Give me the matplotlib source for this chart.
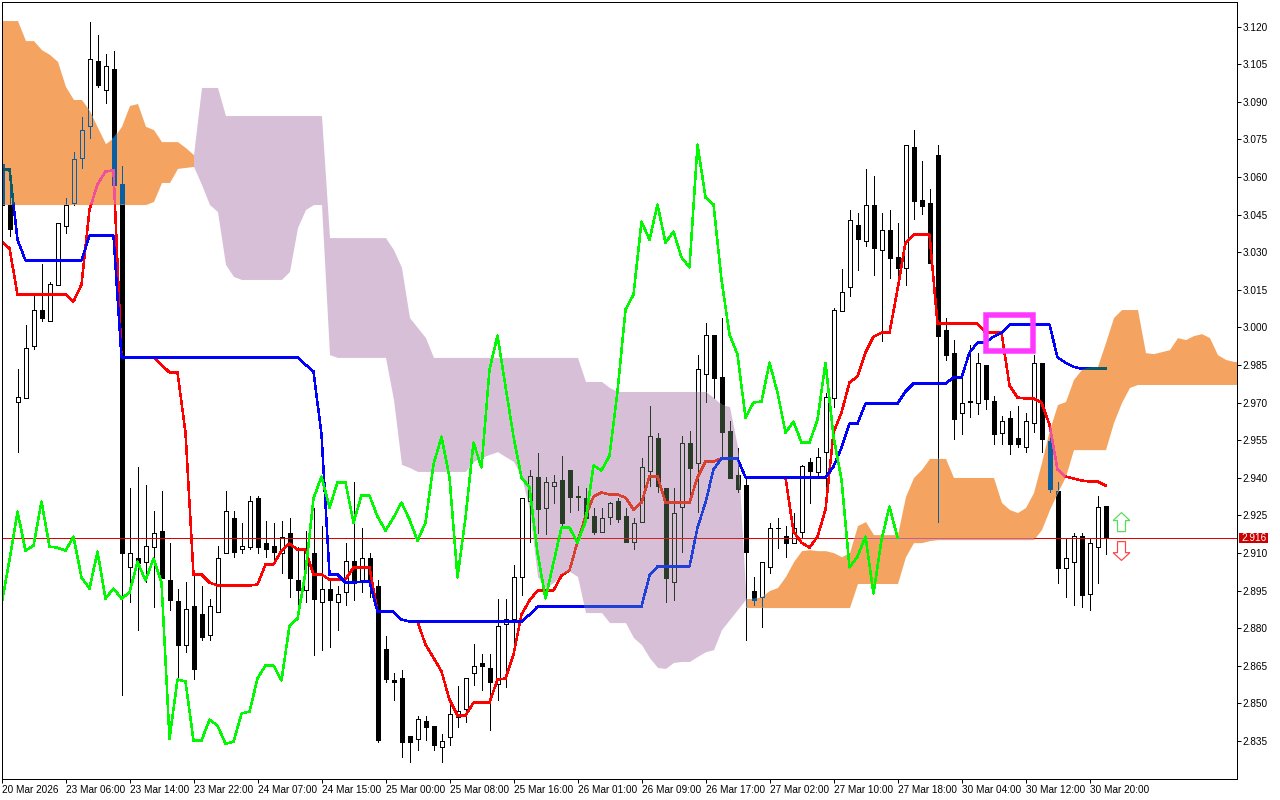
import matplotlib
matplotlib.use('Agg')
import matplotlib.pyplot as plt
from matplotlib.patches import Polygon, Rectangle

plt.rcParams['font.family'] = ['Liberation Sans', 'DejaVu Sans']

bar_open = [
    3.0650, 3.0490, 2.9704, 2.9720, 2.9927, 3.0071, 3.0027, 3.0167, 3.0406, 3.0498,
    3.0677, 3.0802, 3.1061, 3.0945, 3.1029, 3.0570, 2.9042, 2.9081, 2.9065, 2.9125,
    2.9189, 2.8990, 2.8910, 2.8734, 2.8890, 2.8858, 2.8774, 2.8866, 2.9101, 2.9241,
    2.9117, 2.9125, 2.9321, 2.9141, 2.9129, 2.9101, 2.9181, 2.8990, 2.8954, 2.9101,
    2.8906, 2.8958, 2.8906, 2.8946, 2.9069, 2.8982, 2.9081, 2.8970, 2.8718, 2.8591,
    2.8599, 2.8371, 2.8359, 2.8431, 2.8411, 2.8327, 2.8367, 2.8447, 2.8479, 2.8619,
    2.8659, 2.8639, 2.8579, 2.8818, 2.8838, 2.9002, 2.9309, 2.9401, 2.9281, 2.9365,
    2.9389, 2.9429, 2.9329, 2.9321, 2.9249, 2.9185, 2.9245, 2.9309, 2.9249, 2.9145,
    2.9225, 2.9425, 2.9560, 2.9361, 2.8985, 2.9285, 2.9540, 2.9457, 2.9812, 2.9971,
    2.9800, 2.9588, 2.9409, 2.9369, 2.8950, 2.8926, 2.9042, 2.9201, 2.9169, 2.9141,
    2.9185, 2.9461, 2.9421, 2.9504, 2.9720, 3.0067, 3.0159, 3.0410, 3.0346, 3.0490,
    3.0307, 3.0390, 3.0279, 3.0235, 3.0721, 3.0510, 3.0498, 3.0689, 2.9991, 2.9899,
    2.9660, 2.9704, 2.9700, 2.9851, 2.9708, 2.9580, 2.9640, 2.9560, 2.9524, 2.9620,
    2.9859, 2.9548, 2.9349, 2.9038, 2.9065, 2.9169, 2.8938, 2.9125, 2.9289,
]
bar_high = [
    3.0650, 3.0630, 2.9832, 3.0011, 3.0131, 3.0251, 3.0179, 3.0418, 3.0518, 3.0701,
    3.0841, 3.1220, 3.1168, 3.1089, 3.1101, 3.0642, 2.9361, 2.9441, 2.9369, 2.9269,
    2.9349, 2.9141, 2.8958, 2.8982, 2.9022, 2.8970, 2.8918, 2.9129, 2.9349, 2.9269,
    2.9221, 2.9329, 2.9329, 2.9229, 2.9221, 2.9229, 2.9241, 2.9125, 2.9189, 2.9281,
    2.9209, 2.8994, 2.8970, 2.9141, 2.9381, 2.9201, 2.9101, 2.8990, 2.8770, 2.8619,
    2.8631, 2.8371, 2.8451, 2.8451, 2.8411, 2.8379, 2.8499, 2.8571, 2.8599, 2.8738,
    2.8698, 2.8698, 2.8918, 2.8918, 2.9050, 2.9321, 2.9429, 2.9500, 2.9401, 2.9409,
    2.9488, 2.9429, 2.9365, 2.9361, 2.9281, 2.9281, 2.9305, 2.9321, 2.9281, 2.9241,
    2.9480, 2.9688, 2.9580, 2.9361, 2.9361, 2.9568, 2.9588, 2.9891, 3.0019, 2.9971,
    3.0039, 2.9628, 2.9520, 2.9405, 2.9002, 2.9065, 2.9221, 2.9241, 2.9209, 2.9261,
    2.9449, 2.9480, 2.9520, 2.9740, 3.0079, 3.0231, 3.0470, 3.0458, 3.0630, 3.0602,
    3.0458, 3.0470, 3.0418, 3.0729, 3.0789, 3.0662, 3.0550, 3.0729, 3.0039, 2.9951,
    2.9800, 2.9931, 2.9899, 2.9851, 2.9728, 2.9648, 2.9668, 2.9688, 2.9660, 2.9891,
    2.9859, 2.9592, 2.9381, 2.9161, 2.9181, 2.9181, 2.9161, 2.9329, 2.9289,
]
bar_low = [
    3.0490, 3.0366, 2.9504, 2.9720, 2.9915, 3.0027, 3.0027, 3.0167, 3.0378, 3.0490,
    3.0637, 3.0757, 3.0957, 3.0897, 3.0514, 2.8535, 2.8906, 2.8794, 2.8985, 2.8886,
    2.8998, 2.8874, 2.8595, 2.8706, 2.8595, 2.8754, 2.8754, 2.8866, 2.9101, 2.9085,
    2.9101, 2.9117, 2.9101, 2.9085, 2.9061, 2.9018, 2.8926, 2.8894, 2.8906, 2.8694,
    2.8714, 2.8726, 2.8794, 2.8894, 2.8914, 2.8946, 2.8926, 2.8347, 2.8587, 2.8515,
    2.8287, 2.8267, 2.8315, 2.8355, 2.8315, 2.8267, 2.8335, 2.8407, 2.8427, 2.8575,
    2.8555, 2.8395, 2.8515, 2.8567, 2.8746, 2.8934, 2.9145, 2.9181, 2.9177, 2.9301,
    2.9205, 2.9265, 2.9273, 2.9241, 2.9177, 2.9185, 2.9217, 2.9225, 2.9145, 2.9117,
    2.9225, 2.9365, 2.9345, 2.8906, 2.8914, 2.9105, 2.9305, 2.9265, 2.9704, 2.9720,
    2.9480, 2.9397, 2.9345, 2.8754, 2.8894, 2.8806, 2.9018, 2.9121, 2.9085, 2.9141,
    2.9165, 2.9301, 2.9401, 2.9325, 2.9684, 3.0067, 3.0127, 3.0227, 3.0326, 3.0207,
    2.9947, 3.0195, 3.0179, 3.0167, 3.0434, 3.0454, 3.0255, 2.9225, 2.9868, 2.9556,
    2.9576, 2.9644, 2.9656, 2.9676, 2.9536, 2.9536, 2.9496, 2.9524, 2.9504, 2.9584,
    2.9504, 2.9345, 2.8978, 2.8926, 2.8894, 2.8886, 2.8874, 2.8978, 2.9097,
]
bar_close = [
    3.0490, 3.0394, 2.9724, 2.9919, 3.0071, 3.0039, 3.0171, 3.0418, 3.0490, 3.0670,
    3.0789, 3.1069, 3.0965, 3.1041, 3.0566, 2.9101, 2.9101, 2.9061, 2.9129, 2.9181,
    2.8998, 2.8914, 2.8734, 2.8878, 2.8635, 2.8766, 2.8890, 2.9081, 2.9269, 2.9105,
    2.9129, 2.9309, 2.9125, 2.9117, 2.9105, 2.9165, 2.8998, 2.8954, 2.9113, 2.8918,
    2.8958, 2.8914, 2.8938, 2.9069, 2.8985, 2.9081, 2.8982, 2.8355, 2.8595, 2.8587,
    2.8347, 2.8347, 2.8439, 2.8407, 2.8335, 2.8351, 2.8459, 2.8471, 2.8599, 2.8647,
    2.8647, 2.8587, 2.8810, 2.8838, 2.9002, 2.9321, 2.9405, 2.9277, 2.9381, 2.9381,
    2.9221, 2.9325, 2.9325, 2.9241, 2.9185, 2.9241, 2.9301, 2.9237, 2.9145, 2.9221,
    2.9441, 2.9568, 2.9365, 2.8998, 2.9261, 2.9540, 2.9437, 2.9832, 2.9971, 2.9796,
    2.9584, 2.9397, 2.9357, 2.9105, 2.8914, 2.9065, 2.9201, 2.9201, 2.9141, 2.9201,
    2.9445, 2.9425, 2.9484, 2.9724, 3.0071, 3.0139, 3.0430, 3.0354, 3.0490, 3.0315,
    3.0390, 3.0275, 3.0235, 3.0729, 3.0506, 3.0486, 3.0255, 2.9967, 2.9888, 2.9636,
    2.9700, 2.9708, 2.9859, 2.9716, 2.9576, 2.9628, 2.9536, 2.9536, 2.9628, 2.9859,
    2.9556, 2.9357, 2.9038, 2.9081, 2.9169, 2.8934, 2.9141, 2.9285, 2.9160,
]

tenkan = [
    3.0342, 3.0315, 3.0131, 3.0131, 3.0131, 3.0131, 3.0131, 3.0131, 3.0131, 3.0103,
    3.0171, 3.0470, 3.0570, 3.0622, 3.0626, 2.9880, 2.9880, 2.9880, 2.9880, 2.9880,
    2.9851, 2.9820, 2.9820, 2.9580, 2.9014, 2.9014, 2.8982, 2.8970, 2.8970, 2.8970,
    2.8970, 2.8970, 2.8974, 2.9054, 2.9054, 2.9109, 2.9137, 2.9113, 2.9113, 2.9014,
    2.9014, 2.8994, 2.8994, 2.8994, 2.9042, 2.9042, 2.9042, 2.8866, 2.8866, 2.8866,
    2.8834, 2.8826, 2.8826, 2.8734, 2.8682, 2.8627, 2.8515, 2.8451, 2.8451, 2.8503,
    2.8503, 2.8503, 2.8595, 2.8599, 2.8694, 2.8854, 2.8910, 2.8950, 2.8950, 2.8950,
    2.9010, 2.9030, 2.9145, 2.9245, 2.9325, 2.9341, 2.9333, 2.9333, 2.9321, 2.9273,
    2.9301, 2.9405, 2.9405, 2.9301, 2.9301, 2.9301, 2.9301, 2.9401, 2.9465, 2.9465,
    2.9477, 2.9477, 2.9477, 2.9401, 2.9401, 2.9401, 2.9401, 2.9401, 2.9401, 2.9185,
    2.9141, 2.9121, 2.9165, 2.9273, 2.9580, 2.9660, 2.9780, 2.9804, 2.9899, 2.9963,
    2.9979, 2.9979, 3.0151, 3.0338, 3.0370, 3.0370, 3.0370, 3.0015, 3.0015, 3.0015,
    3.0015, 3.0015, 3.0015, 2.9979, 2.9979, 2.9979, 2.9768, 2.9720, 2.9716, 2.9716,
    2.9700, 2.9612, 2.9433, 2.9405, 2.9397, 2.9389, 2.9385, 2.9385, 2.9369,
]
kijun = [
    3.0630, 3.0630, 3.0350, 3.0267, 3.0267, 3.0267, 3.0267, 3.0267, 3.0267, 3.0267,
    3.0267, 3.0366, 3.0366, 3.0366, 3.0366, 2.9880, 2.9880, 2.9880, 2.9880, 2.9880,
    2.9880, 2.9880, 2.9880, 2.9880, 2.9880, 2.9880, 2.9880, 2.9880, 2.9880, 2.9880,
    2.9880, 2.9880, 2.9880, 2.9880, 2.9880, 2.9880, 2.9880, 2.9880, 2.9851, 2.9824,
    2.9572, 2.9014, 2.9014, 2.8982, 2.8982, 2.8985, 2.8985, 2.8866, 2.8866, 2.8866,
    2.8834, 2.8826, 2.8826, 2.8826, 2.8826, 2.8826, 2.8826, 2.8826, 2.8826, 2.8826,
    2.8826, 2.8826, 2.8826, 2.8826, 2.8826, 2.8826, 2.8854, 2.8886, 2.8886, 2.8886,
    2.8886, 2.8886, 2.8886, 2.8886, 2.8886, 2.8886, 2.8886, 2.8886, 2.8886, 2.8886,
    2.8886, 2.9010, 2.9046, 2.9046, 2.9046, 2.9046, 2.9046, 2.9201, 2.9301, 2.9433,
    2.9477, 2.9477, 2.9477, 2.9401, 2.9401, 2.9401, 2.9401, 2.9401, 2.9401, 2.9401,
    2.9401, 2.9401, 2.9401, 2.9401, 2.9445, 2.9520, 2.9616, 2.9616, 2.9696, 2.9696,
    2.9696, 2.9696, 2.9696, 2.9744, 2.9776, 2.9776, 2.9776, 2.9776, 2.9776, 2.9800,
    2.9800, 2.9899, 2.9939, 2.9939, 2.9963, 2.9979, 3.0011, 3.0011, 3.0011, 3.0011,
    3.0011, 3.0011, 2.9880, 2.9859, 2.9843, 2.9835, 2.9835, 2.9835, 2.9835,
]
chikou = [
    2.8894, 2.9073, 2.9265, 2.9109, 2.9129, 2.9305, 2.9125, 2.9121, 2.9109, 2.9165,
    2.9002, 2.8958, 2.9105, 2.8918, 2.8958, 2.8918, 2.8942, 2.9065, 2.8990, 2.9077,
    2.8982, 2.8359, 2.8595, 2.8587, 2.8351, 2.8351, 2.8435, 2.8411, 2.8339, 2.8347,
    2.8459, 2.8467, 2.8599, 2.8651, 2.8651, 2.8591, 2.8810, 2.8838, 2.9022, 2.9317,
    2.9405, 2.9281, 2.9381, 2.9381, 2.9221, 2.9329, 2.9329, 2.9245, 2.9189, 2.9241,
    2.9301, 2.9233, 2.9149, 2.9221, 2.9453, 2.9564, 2.9401, 2.9002, 2.9241, 2.9540,
    2.9441, 2.9832, 2.9967, 2.9764, 2.9564, 2.9401, 2.9361, 2.9101, 2.8918, 2.9061,
    2.9201, 2.9201, 2.9141, 2.9225, 2.9449, 2.9429, 2.9488, 2.9744, 3.0071, 3.0131,
    3.0422, 3.0350, 3.0490, 3.0338, 3.0382, 3.0279, 3.0239, 3.0729, 3.0518, 3.0490,
    3.0191, 2.9971, 2.9891, 2.9640, 2.9700, 2.9704, 2.9859, 2.9740, 2.9580, 2.9624,
    2.9540, 2.9540, 2.9632, 2.9859, 2.9564, 2.9393, 2.9042, 2.9085, 2.9165, 2.8938,
    2.9153, 2.9285, 2.9161,
]

# cloud spans: first orange part starts at bar 0, purple at bar 24, second orange at bar 93
orange1_top = [
    3.1224, 3.1224, 3.1224, 3.1144, 3.1144, 3.1108, 3.1089, 3.1061, 3.0961, 3.0909,
    3.0909, 3.0865, 3.0798, 3.0733, 3.0757, 3.0802, 3.0885, 3.0893, 3.0802, 3.0789,
    3.0741, 3.0741, 3.0741, 3.0717, 3.0689,
]
orange1_bottom = [
    3.0490, 3.0490, 3.0490, 3.0490, 3.0490, 3.0490, 3.0490, 3.0490, 3.0490, 3.0490,
    3.0490, 3.0490, 3.0490, 3.0490, 3.0490, 3.0490, 3.0490, 3.0490, 3.0490, 3.0502,
    3.0578, 3.0578, 3.0634, 3.0638, 3.0642,
]
purple_top = [
    3.0689, 3.0957, 3.0957, 3.0957, 3.0845, 3.0845, 3.0845, 3.0845, 3.0845, 3.0845,
    3.0845, 3.0845, 3.0845, 3.0845, 3.0845, 3.0845, 3.0845, 3.0358, 3.0358, 3.0358,
    3.0358, 3.0358, 3.0358, 3.0358, 3.0358, 3.0310, 3.0239, 3.0039, 2.9999, 2.9959,
    2.9880, 2.9880, 2.9880, 2.9880, 2.9880, 2.9880, 2.9880, 2.9880, 2.9880, 2.9880,
    2.9880, 2.9880, 2.9880, 2.9880, 2.9880, 2.9880, 2.9880, 2.9880, 2.9880, 2.9784,
    2.9784, 2.9784, 2.9760, 2.9744, 2.9744, 2.9744, 2.9744, 2.9744, 2.9744, 2.9744,
    2.9744, 2.9744, 2.9744, 2.9744, 2.9744, 2.9720, 2.9692, 2.9684, 2.9524, 2.8954,
]
purple_bottom = [
    3.0642, 3.0570, 3.0490, 3.0462, 3.0251, 3.0203, 3.0191, 3.0191, 3.0191, 3.0191,
    3.0191, 3.0191, 3.0223, 3.0398, 3.0470, 3.0490, 3.0490, 2.9891, 2.9880, 2.9880,
    2.9880, 2.9880, 2.9880, 2.9880, 2.9880, 2.9712, 2.9453, 2.9441, 2.9425, 2.9425,
    2.9425, 2.9425, 2.9425, 2.9425, 2.9425, 2.9465, 2.9481, 2.9493, 2.9504, 2.9484,
    2.9465, 2.9405, 2.9273, 2.9006, 2.8962, 2.8982, 2.9014, 2.9026, 2.9006, 2.8862,
    2.8862, 2.8862, 2.8822, 2.8822, 2.8822, 2.8762, 2.8734, 2.8682, 2.8643, 2.8639,
    2.8663, 2.8667, 2.8667, 2.8687, 2.8706, 2.8714, 2.8794, 2.8834, 2.8874, 2.8914,
]
orange2_top = [
    2.8918, 2.8918, 2.8926, 2.8950, 2.8962, 2.9006, 2.9065, 2.9109, 2.9113, 2.9109,
    2.9109, 2.9101, 2.9085, 2.9101, 2.9209, 2.9225, 2.9173, 2.9173, 2.9173, 2.9173,
    2.9325, 2.9401, 2.9433, 2.9477, 2.9477, 2.9477, 2.9401, 2.9401, 2.9401, 2.9401,
    2.9401, 2.9401, 2.9301, 2.9273, 2.9261, 2.9281, 2.9341, 2.9461, 2.9592, 2.9692,
    2.9704, 2.9792, 2.9832, 2.9840, 2.9844, 2.9939, 3.0039, 3.0071, 3.0071, 3.0071,
    2.9899, 2.9895, 2.9903, 2.9911, 2.9959, 2.9951, 2.9967, 2.9975, 2.9959, 2.9891,
    2.9872, 2.9864, 2.9864,
]
orange2_bottom = [
    2.8882, 2.8882, 2.8882, 2.8882, 2.8882, 2.8882, 2.8882, 2.8882, 2.8882, 2.8882,
    2.8882, 2.8882, 2.8882, 2.8882, 2.8978, 2.8978, 2.8978, 2.8978, 2.8978, 2.8978,
    2.9085, 2.9141, 2.9141, 2.9149, 2.9153, 2.9153, 2.9153, 2.9153, 2.9153, 2.9153,
    2.9153, 2.9153, 2.9153, 2.9153, 2.9153, 2.9153, 2.9153, 2.9193, 2.9273, 2.9341,
    2.9405, 2.9512, 2.9512, 2.9512, 2.9512, 2.9512, 2.9620, 2.9700, 2.9760, 2.9772,
    2.9772, 2.9772, 2.9772, 2.9772, 2.9772, 2.9772, 2.9772, 2.9772, 2.9772, 2.9772,
    2.9772, 2.9772, 2.9772,
]

time_labels = ['20 Mar 2026', '23 Mar 06:00', '23 Mar 14:00', '23 Mar 22:00', '24 Mar 07:00',
               '24 Mar 15:00', '25 Mar 00:00', '25 Mar 08:00', '25 Mar 16:00', '26 Mar 01:00',
               '26 Mar 09:00', '26 Mar 17:00', '27 Mar 02:00', '27 Mar 10:00', '27 Mar 18:00',
               '30 Mar 04:00', '30 Mar 12:00', '30 Mar 20:00']
price_ticks = [2.835, 2.85, 2.865, 2.88, 2.895, 2.91, 2.925, 2.94, 2.955, 2.97,
               2.985, 3.0, 3.015, 3.03, 3.045, 3.06, 3.075, 3.09, 3.105, 3.12]
last_price = 2.916

PX = 0.72  # one pixel at dpi 100
LINE_W = 1.5 * PX

fig = plt.figure(figsize=(12.8, 8), dpi=100)
ax = fig.add_axes([1.5 / 1280, 1 - 778.5 / 800, 1235 / 1280, 777 / 800])
ax.set_xlim(0, 154.375)
ax.set_ylim(2.82, 3.13)

bars = list(range(len(bar_open)))
body_top = [max(o, c) for o, c in zip(bar_open, bar_close)]
body_bot = [min(o, c) for o, c in zip(bar_open, bar_close)]
body_h = [t - b for t, b in zip(body_top, body_bot)]


def draw_candles(edge, solid, hollow, z, clip=None):
    parts = [ax.vlines(bars, body_top, bar_high, colors=edge, lw=PX, zorder=z, antialiased=False),
             ax.vlines(bars, bar_low, body_bot, colors=edge, lw=PX, zorder=z, antialiased=False)]
    fills = [solid if c < o else hollow for o, c in zip(bar_open, bar_close)]
    parts += list(ax.bar(bars, body_h, bottom=body_bot, width=0.5, color=fills, edgecolor=edge,
                         linewidth=PX, zorder=z + 0.1, antialiased=False))
    if clip is not None:
        for p in parts:
            p.set_clip_path(clip, ax.transData)


draw_candles('black', 'black', 'white', 1)

orange1 = ax.fill_between(range(0, 25), orange1_bottom, orange1_top, color='#F4A460', lw=0, zorder=2)
purple = ax.fill_between(range(24, 94), purple_bottom, purple_top, color='#D8BFD8', lw=0, zorder=2)
orange2 = ax.fill_between(range(93, 156), orange2_bottom, orange2_top, color='#F4A460', lw=0, zorder=2)

ax.axhline(last_price, color='#E00000', lw=PX, zorder=3.5, antialiased=False)
ax.plot(bars, tenkan, color='red', lw=LINE_W, zorder=4, antialiased=False)
ax.plot(bars, kijun, color='blue', lw=LINE_W, zorder=4.2, antialiased=False)
ax.plot(range(len(chikou)), chikou, color='#00F800', lw=LINE_W, zorder=6, antialiased=False)

# things under a cloud change colour, as in the terminal
for cloud, black_c, red_c, blue_c, line_c in [
    (orange1, '#0A5FA0', '#F0509A', '#0A5A6A', '#C060A0'),
    (orange2, '#0A5FA0', '#F0509A', '#0A5A6A', '#C060A0'),
    (purple, '#283C28', '#D84030', '#2040D8', '#D02020'),
]:
    path = cloud.get_paths()[0]
    draw_candles(black_c, black_c, 'none', 3, clip=path)
    ax.axhline(last_price, color=line_c, lw=PX, zorder=3.6, antialiased=False).set_clip_path(path, ax.transData)
    ax.plot(bars, tenkan, color=red_c, lw=LINE_W, zorder=4.1, antialiased=False)[0].set_clip_path(path, ax.transData)
    ax.plot(bars, kijun, color=blue_c, lw=LINE_W, zorder=4.3, antialiased=False)[0].set_clip_path(path, ax.transData)

# marked box and the two arrows
ax.add_patch(Rectangle((123.1, 2.9906), 5.8, 0.0144, fill=False, edgecolor='#FF38FF', lw=5.5 * PX,
                       joinstyle='miter', zorder=8))
ax.add_patch(Polygon([(140, 2.9261), (141.05, 2.9229), (140.5, 2.9229), (140.5, 2.9185),
                      (139.5, 2.9185), (139.5, 2.9229), (138.95, 2.9229)],
                     closed=True, facecolor='white', edgecolor='#55DD55', lw=1.2 * PX, zorder=7))
ax.add_patch(Polygon([(140, 2.9070), (141.05, 2.9101), (140.5, 2.9101), (140.5, 2.9145),
                      (139.5, 2.9145), (139.5, 2.9101), (138.95, 2.9101)],
                     closed=True, facecolor='white', edgecolor='#FF4444', lw=1.2 * PX, zorder=7))

for s in ax.spines.values():
    s.set_linewidth(PX)
    s.set_zorder(9)

ax.yaxis.tick_right()
ax.set_yticks(price_ticks)
ax.set_yticklabels(['%.3f' % p for p in price_ticks], fontsize=7.2)
ax.set_xticks(range(0, 8 * len(time_labels), 8))
ax.set_xticklabels(time_labels, fontsize=7.2, ha='left')
ax.tick_params(axis='both', length=3, width=PX, pad=1.5)

# last price tag on the scale
yt = ax.get_yaxis_transform()
ax.add_patch(Rectangle((1 + 2.5 / 1235, last_price - 0.002), 29 / 1235, 0.004, transform=yt,
                       facecolor='#CC0000', edgecolor='none', clip_on=False, zorder=9))
ax.text(1 + 5 / 1235, last_price, '%.3f' % last_price, transform=yt, color='white', fontsize=7.2,
        va='center', ha='left', zorder=10)

fig.savefig('out.png', dpi=100)
